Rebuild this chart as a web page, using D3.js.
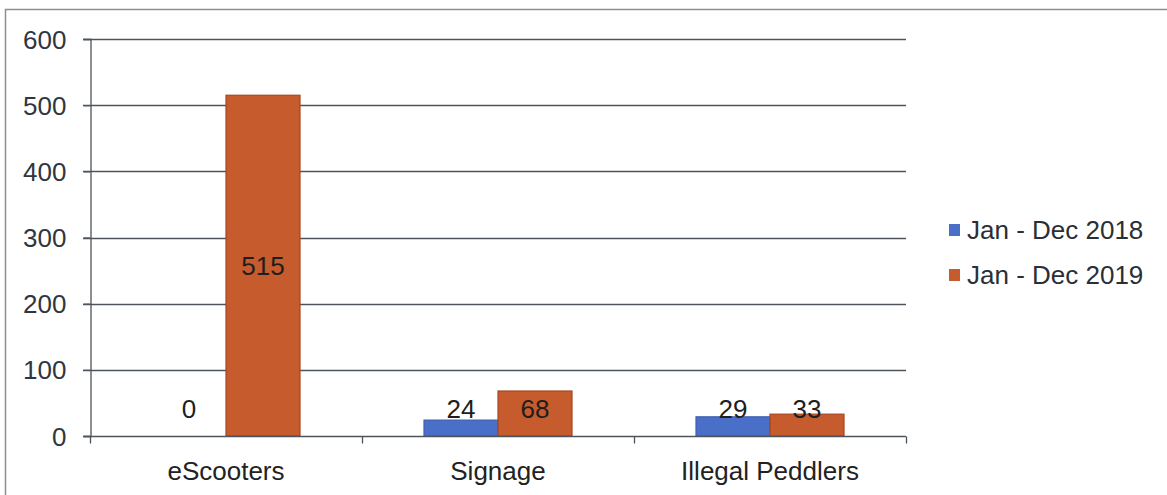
<!DOCTYPE html>
<html><head><meta charset="utf-8">
<script src="https://cdn.jsdelivr.net/npm/d3@7"></script>
<style>body{margin:0;background:#fff}svg{display:block}text{font-family:"Liberation Sans",Arial,sans-serif}</style>
</head><body><svg id="c" width="1167" height="495"></svg>
<script>
const categories = ["eScooters", "Signage", "Illegal Peddlers"];
const seriesNames = ["Jan - Dec 2018", "Jan - Dec 2019"];
const values2018 = [0, 24, 29];
const values2019 = [515, 68, 33];
const yTicks = [0, 100, 200, 300, 400, 500, 600];
const colors = ["#4a6fc8", "#c65b2e"];
const strokes = ["#3d5fb0", "#a9451e"];

const FS = 26;
const svg = d3.select("#c");
// outer border (top and left)
svg.append("path").attr("d", "M5.5,495 L5.5,9.5 L1167,9.5").attr("fill", "none").attr("stroke", "#8a8f96").attr("stroke-width", 1.5);

const m = {l: 90, r: 906, t: 39, b: 436};
const x = d3.scaleBand().domain(categories).range([m.l, m.r]).paddingInner(0).paddingOuter(0);
const y = d3.scaleLinear().domain([0, 600]).range([m.b, m.t]);
const groupW = 148;
const xs = d3.scaleBand().domain(seriesNames).range([0, groupW]);

// gridlines
svg.append("g").selectAll("line").data(yTicks.filter(d => d > 0)).join("line")
  .attr("x1", m.l - 7).attr("x2", m.r).attr("y1", d => Math.round(y(d)) + 0.5).attr("y2", d => Math.round(y(d)) + 0.5)
  .attr("stroke", "#4d545c").attr("stroke-width", 1.3);

// y axis
const ya = svg.append("g").attr("transform", `translate(${m.l + 0.5},0)`)
  .call(d3.axisLeft(y).tickValues(yTicks).tickSize(7).tickPadding(17));
ya.select(".domain").attr("stroke", "#4d545c").attr("stroke-width", 1.3);
ya.selectAll(".tick line").attr("stroke", "#4d545c").attr("stroke-width", 1.3);
ya.selectAll(".tick text").attr("font-size", FS).attr("fill", "#2f3640").attr("font-family", '"Liberation Sans",Arial,sans-serif').attr("dy", "0.35em");

// bars
const data = seriesNames.map((s, i) => ({name: s, vals: i === 0 ? values2018 : values2019, i}));
data.forEach(s => {
  svg.append("g").selectAll("rect").data(categories).join("rect")
    .attr("x", (c) => x(c) + (x.bandwidth() - groupW) / 2 + xs(s.name))
    .attr("width", xs.bandwidth())
    .attr("y", (c, j) => y(s.vals[j]))
    .attr("height", (c, j) => y(0) - y(s.vals[j]))
    .attr("fill", colors[s.i]).attr("stroke", strokes[s.i]).attr("stroke-width", 1.2);
});

// x axis
const xa = svg.append("g").attr("transform", `translate(0,${m.b + 0.5})`);
xa.append("line").attr("x1", m.l - 7).attr("x2", m.r).attr("stroke", "#4d545c").attr("stroke-width", 1.3);
const tickPos = categories.map(c => x(c)).concat([m.r]);
xa.selectAll("line.t").data(tickPos).join("line").attr("class", "t")
  .attr("x1", d => Math.round(d) + 0.5).attr("x2", d => Math.round(d) + 0.5).attr("y1", 0).attr("y2", 7)
  .attr("stroke", "#4d545c").attr("stroke-width", 1.3);
xa.selectAll("text").data(categories).join("text")
  .attr("x", c => x(c) + x.bandwidth() / 2).attr("y", 43)
  .attr("text-anchor", "middle").attr("font-size", FS).attr("fill", "#222").text(c => c);

// data labels
data.forEach(s => {
  svg.append("g").selectAll("text").data(categories).join("text")
    .attr("x", c => x(c) + (x.bandwidth() - groupW) / 2 + xs(s.name) + xs.bandwidth() / 2)
    .attr("y", (c, j) => Math.min((y(s.vals[j]) + y(0)) / 2, y(0) - 27))
    .attr("dy", "0.36em")
    .attr("text-anchor", "middle").attr("font-size", FS).attr("fill", "#1e1e1e")
    .text((c, j) => s.vals[j]);
});

// legend
const lg = svg.append("g");
seriesNames.forEach((n, i) => {
  const yy = 230 + i * 45;
  lg.append("rect").attr("x", 949).attr("y", yy - 6).attr("width", 11).attr("height", 12).attr("fill", colors[i]);
  lg.append("text").attr("x", 967).attr("y", yy).attr("dy", "0.36em").attr("font-size", FS).attr("fill", "#2a2f36").text(n);
});
</script></body></html>
